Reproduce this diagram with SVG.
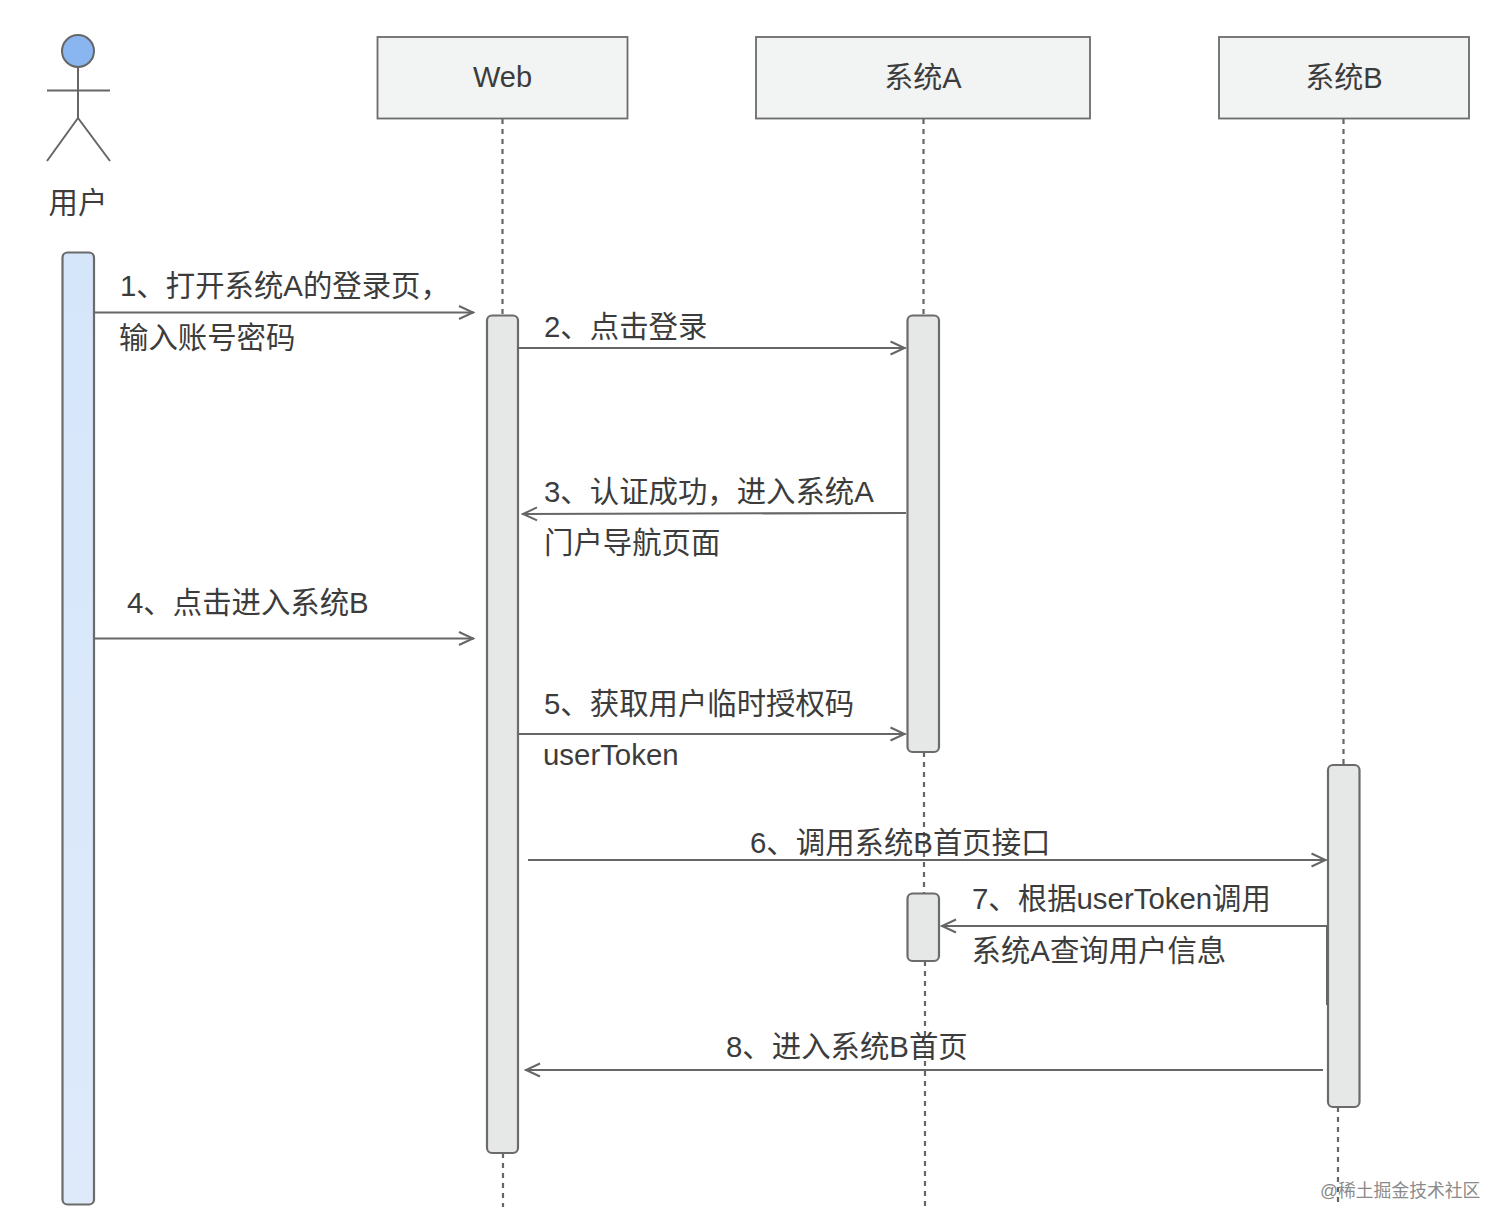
<svg xmlns="http://www.w3.org/2000/svg" width="1512" height="1232" viewBox="0 0 1512 1232">
<style>
text{font-family:"Liberation Sans","Noto Sans CJK SC",sans-serif;font-size:29px;fill:#3c3c3c}
#labels text{font-size:29.400px}
#labels .wm{font-size:17.800px;fill:#8a8a8a}
.head{fill:#f2f3f3;stroke:#6b6b6b;stroke-width:1.800}
.bar{fill:#e6e7e7;stroke:#6b6b6b;stroke-width:2.200}
.life{stroke:#666;stroke-width:2.200;stroke-dasharray:5 5;fill:none}
.msg{stroke:#666;stroke-width:2;fill:none}
.fig{stroke:#666;stroke-width:2;fill:none}
</style>
<defs>
<marker id="arr" markerUnits="userSpaceOnUse" markerWidth="18" markerHeight="16" refX="16" refY="8" orient="auto"><path d="M1 1.500L15 8L1 14.500" fill="none" stroke="#666" stroke-width="2"/></marker>
<linearGradient id="blue" x1="0" y1="0" x2="0" y2="1"><stop offset="0" stop-color="#d6e6fa"/><stop offset="1" stop-color="#deeafa"/></linearGradient>
</defs>
<g id="lifelines">
<path class="life" d="M502.500 119V315"/>
<path class="life" d="M923.500 119V315"/>
<path class="life" d="M1343.500 119V764"/>
<path class="life" d="M924 752V893"/>
<path class="life" d="M925 961V1207"/>
<path class="life" d="M1338 1107V1207"/>
<path class="life" d="M503 1153V1207"/>
</g>
<g id="user">
<circle cx="78" cy="51" r="16" fill="#89b5f0" stroke="#666" stroke-width="2"/>
<path class="fig" d="M78 67V118M47 90.500H110M78 118L47 161M78 118L110 161"/>
<text x="78" y="212.500" text-anchor="middle" style="font-size:29.400px">用户</text>
</g>
<g id="web"><rect class="head" x="377.500" y="37" width="250" height="81.500"/><text x="502.500" y="87" text-anchor="middle">Web</text></g>
<g id="system-a"><rect class="head" x="756" y="37" width="334" height="81.500"/><text x="923" y="87.500" text-anchor="middle">系统A</text></g>
<g id="system-b"><rect class="head" x="1219" y="37" width="250" height="81.500"/><text x="1344" y="87.500" text-anchor="middle">系统B</text></g>
<g id="user-bar"><rect x="62.500" y="252.500" width="31.500" height="952" rx="5" fill="url(#blue)" stroke="#6b6b6b" stroke-width="2.200"/></g>
<g id="web-bar"><rect class="bar" x="487" y="315.500" width="31" height="837.500" rx="5"/></g>
<g id="a-bar-1"><rect class="bar" x="907.500" y="315.500" width="31.500" height="436.500" rx="5"/></g>
<g id="a-bar-2"><rect class="bar" x="907.500" y="893.500" width="31.500" height="67.500" rx="5"/></g>
<g id="b-bar"><rect class="bar" x="1328" y="765" width="31.500" height="342" rx="5"/></g>
<g id="connectors">
<path class="msg" d="M95 312.500H474" marker-end="url(#arr)"/>
<path class="msg" d="M517 348H905.500" marker-end="url(#arr)"/>
<path class="msg" d="M906 513L522 514" marker-end="url(#arr)"/>
<path class="msg" d="M95 638.500H474" marker-end="url(#arr)"/>
<path class="msg" d="M519 734H905.500" marker-end="url(#arr)"/>
<path class="msg" d="M528 860H1326.500" marker-end="url(#arr)"/>
<path class="msg" d="M1327 926H941" marker-end="url(#arr)"/>
<path class="msg" d="M1327 926V1005"/>
<path class="msg" d="M1323 1070H525" marker-end="url(#arr)"/>
</g>
<g id="labels">
<text x="120" y="295.500">1、打开系统A的登录页，</text>
<text x="119" y="347.500">输入账号密码</text>
<text x="544" y="336.500">2、点击登录</text>
<text x="544" y="501.500">3、认证成功，进入系统A</text>
<text x="544" y="552.500">门户导航页面</text>
<text x="127" y="612.500">4、点击进入系统B</text>
<text x="544" y="713.500">5、获取用户临时授权码</text>
<text x="543" y="765">userToken</text>
<text x="750" y="852.500">6、调用系统B首页接口</text>
<text x="972" y="908.500">7、根据userToken调用</text>
<text x="971.500" y="960.500">系统A查询用户信息</text>
<text x="726" y="1056.500">8、进入系统B首页</text>
<text class="wm" x="1320" y="1197">@稀土掘金技术社区</text>
</g>
</svg>
